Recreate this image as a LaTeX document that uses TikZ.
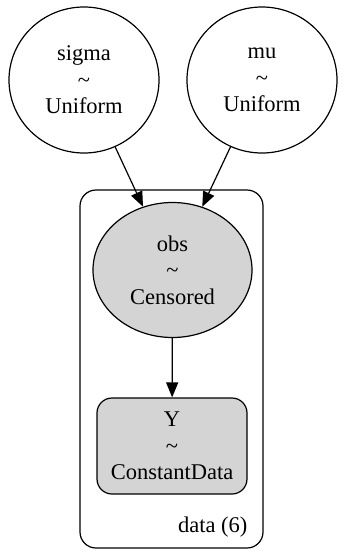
\documentclass[tikz,border=0pt]{standalone}
\usepackage{fontspec}
\setmainfont{Liberation Serif}
\usetikzlibrary{shapes.geometric,arrows.meta}
\begin{document}
\begin{tikzpicture}[x=1pt,y=-1pt,
  lbl/.style={font=\fontsize{22.5}{26.5}\selectfont, align=center},
  rv/.style={ellipse, draw, line width=1.2pt, inner sep=0pt, lbl},
  obsd/.style={rv, fill=black!17},
  datab/.style={draw, line width=1.2pt, rounded corners=15pt, fill=black!17, inner sep=0pt, lbl},
  plate/.style={draw, line width=1.2pt, rounded corners=16pt},
  edge/.style={line width=1.2pt, -{Triangle[length=15pt,width=12pt]}}]
\useasboundingbox (0,0) rectangle (345,558);
\draw[plate] (80,190) rectangle (263,548);
\node[lbl, anchor=east] (platelbl) at (251,527) {data (6)};
\node[rv, minimum width=150pt, minimum height=146pt] (sigma) at (84,80) {sigma\\\textasciitilde\\Uniform};
\node[rv, minimum width=150pt, minimum height=146pt] (mu) at (262,80) {mu\\\textasciitilde\\Uniform};
\node[obsd, minimum width=159pt, minimum height=135pt] (obs) at (172.5,270) {obs\\\textasciitilde\\Censored};
\node[datab, minimum width=150pt, minimum height=96pt] (Y) at (172,446) {Y\\\textasciitilde\\ConstantData};
\draw[edge] (sigma) -- (obs);
\draw[edge] (mu) -- (obs);
\draw[edge] (obs) -- (Y);
\end{tikzpicture}
\end{document}
